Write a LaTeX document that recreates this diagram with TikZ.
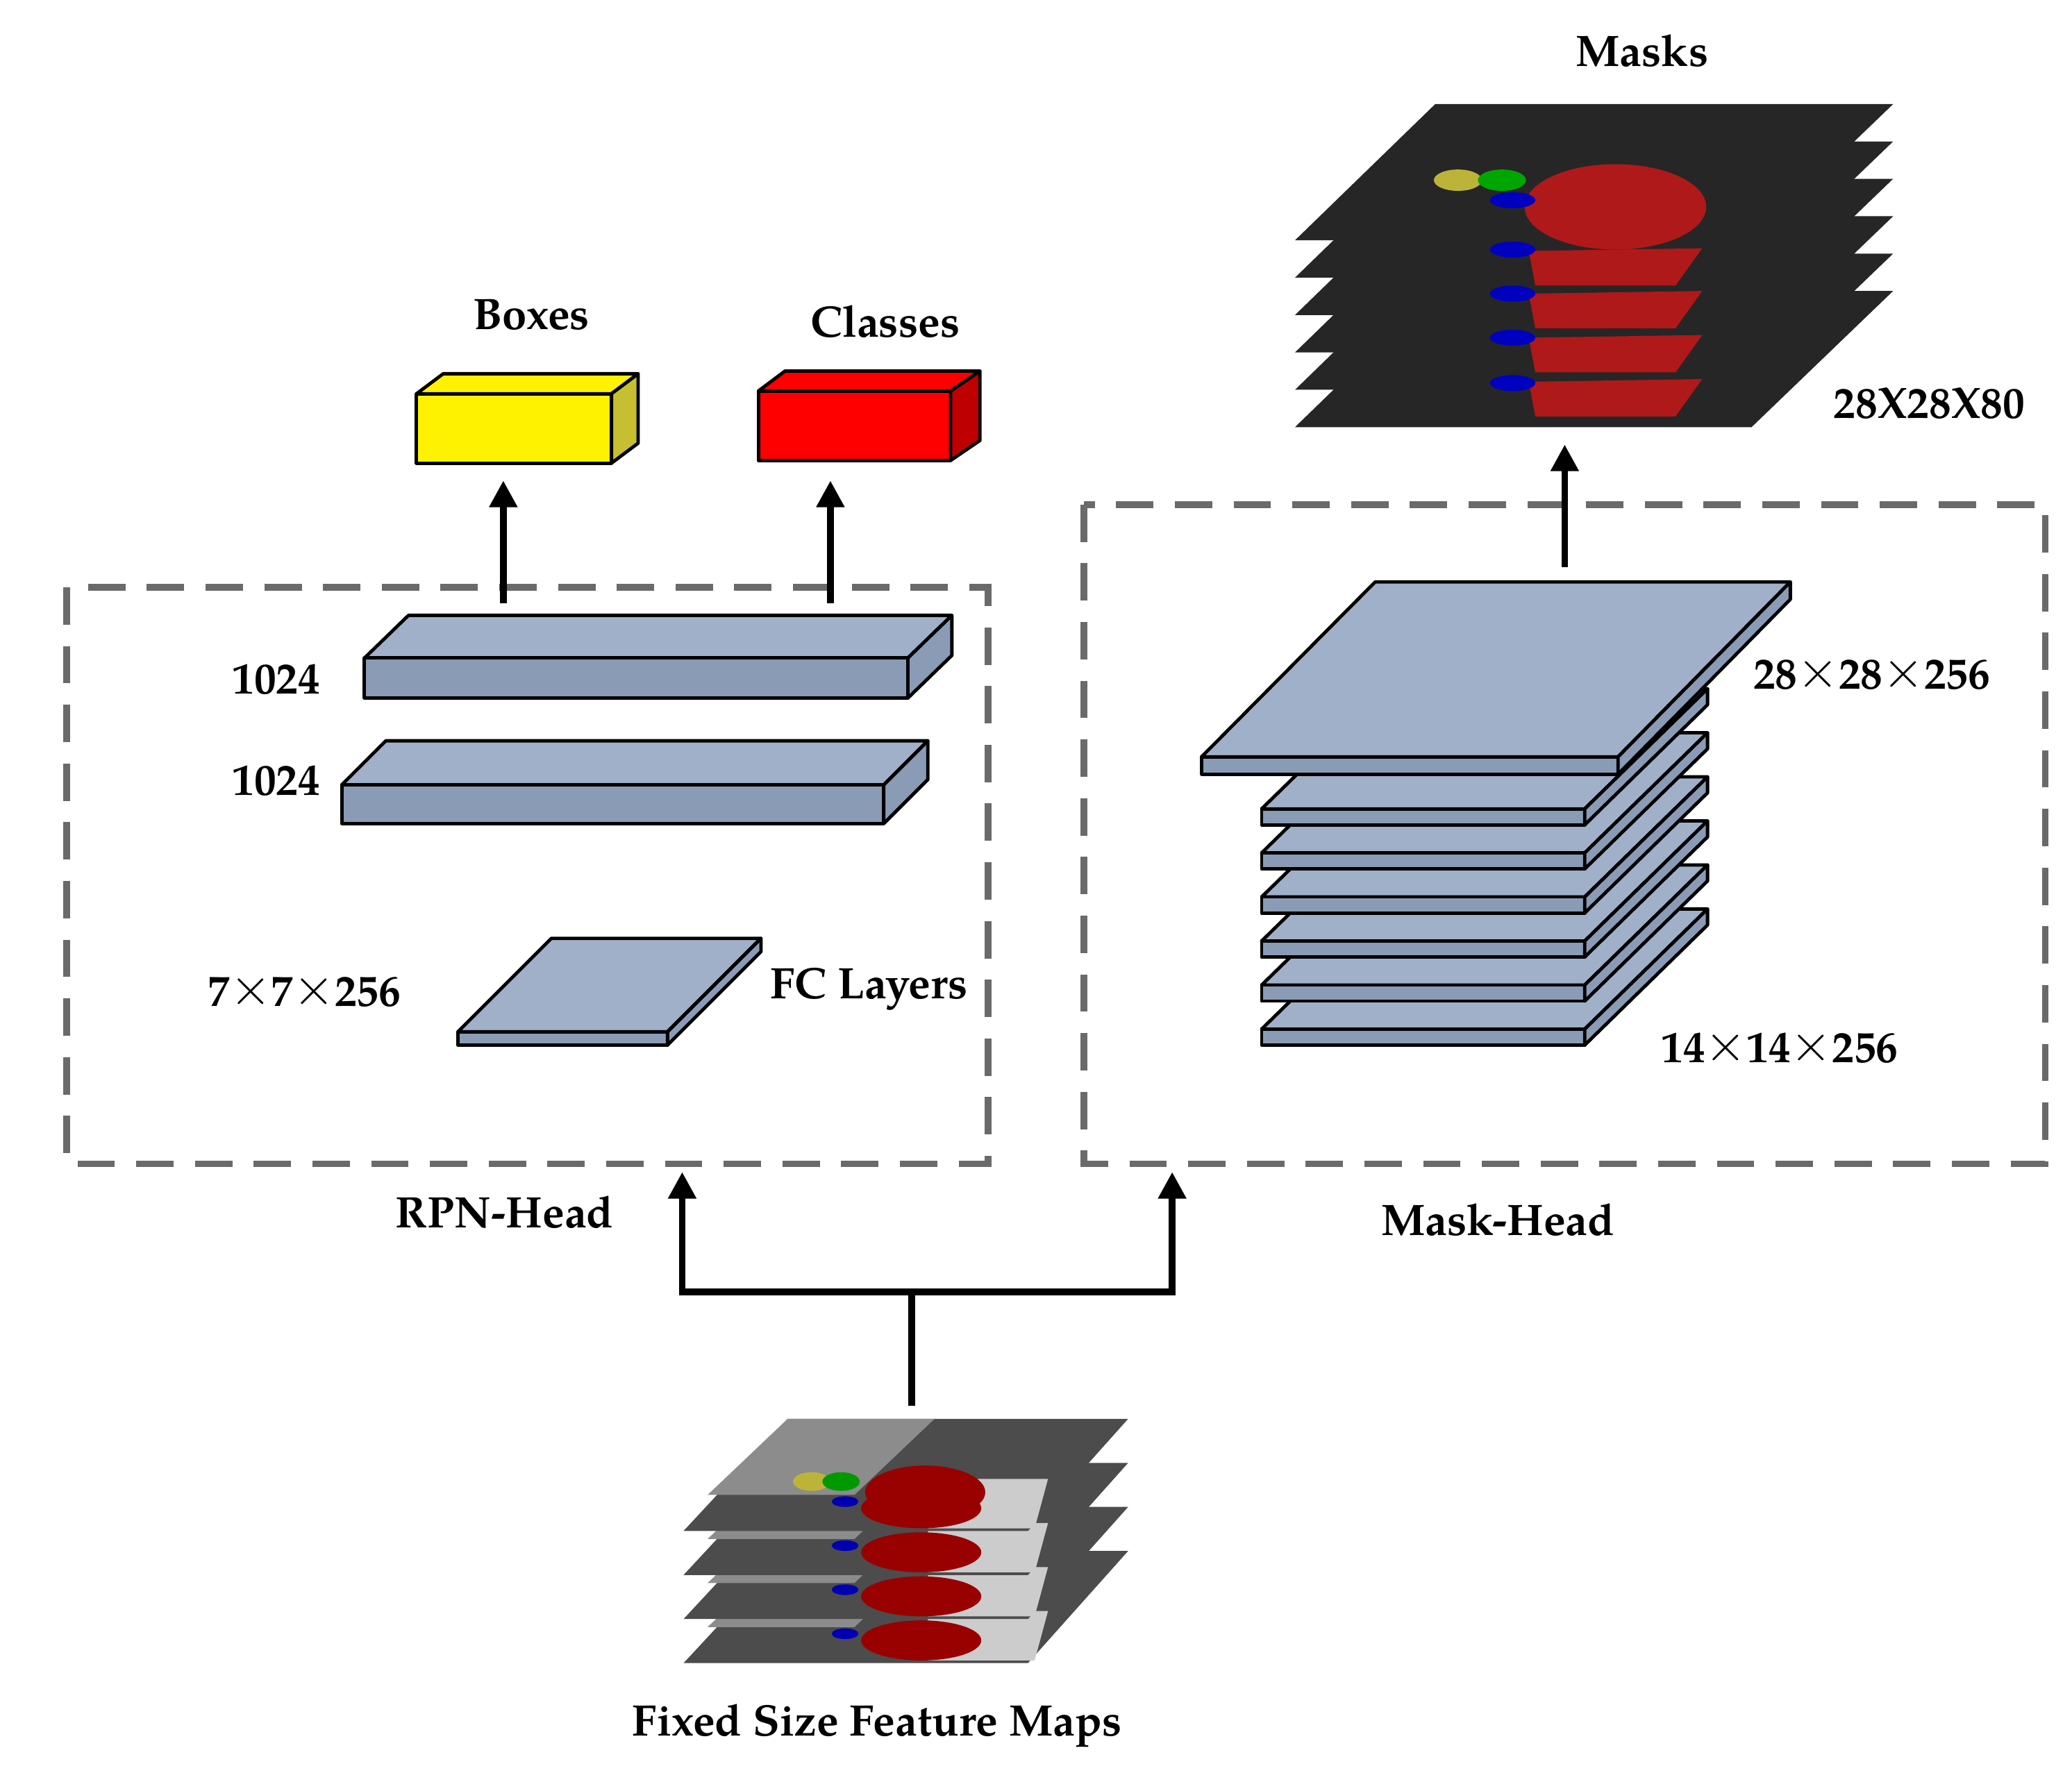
\documentclass[tikz,border=0pt]{standalone}
\usepackage{fontspec}
\setmainfont{TeX Gyre Pagella}
\usetikzlibrary{arrows.meta}
\newcommand{\tms}{\raisebox{1pt}{\scalebox{1.6}{$\times$}}}
\begin{document}
\begin{tikzpicture}[x=1pt,y=-1pt,
 lab/.style={font=\fontsize{33}{38}\selectfont\bfseries},
 dbox/.style={draw=gray!70!black!90,line width=5pt,dash pattern=on 28pt off 16pt},
 arr/.style={line width=5pt,-{Triangle[length=20pt,width=20pt]}},
 plate/.style={draw=black,line width=2.5pt,line join=round},
 pf/.style={plate,fill={rgb,255:red,138;green,155;blue,181}},
 pt/.style={plate,fill={rgb,255:red,160;green,176;blue,200}}]
\useasboundingbox (0,0) rectangle (1552,1328);
% masks
\foreach \i in {5,4,...,0}{
 \fill[black!85] (1075,{78+28*\i}) -- (1418,{78+28*\i}) -- (1312,{180+28*\i}) -- (970,{180+28*\i}) -- cycle;}
\fill[red!65!black!90] (1210,155) ellipse (68 and 32);
\foreach \y in {200,232,265,298}{\fill[red!65!black!90] (1145,\y-12) -- (1275,\y-14) -- (1255,\y+14) -- (1150,\y+14) -- cycle;}
\foreach \y in {150,187,220,253,287}{\fill[blue!75!black] (1133,\y) ellipse (17 and 6);}
\fill[yellow!70!black] (1092,135) ellipse (18 and 8);
\fill[green!65!black] (1125,135) ellipse (18 and 8);
\node[lab] (masks) at (1230,38) {Masks};
\node[lab] (m80) at (1445,302) {28X28X80};
% dashed boxes
\draw[dbox] (50,440) rectangle (740,872);
\draw[dbox] (812,378) rectangle (1532,872);
% output cuboids
\draw[plate,fill=yellow] (312,295) rectangle (458,347);
\draw[plate,fill=yellow] (312,295) -- (332,280) -- (478,280) -- (458,295) -- cycle;
\draw[plate,fill=yellow!75!black] (458,295) -- (478,280) -- (478,332) -- (458,347) -- cycle;
\draw[plate,fill=red] (568,293) rectangle (712,345);
\draw[plate,fill=red] (568,293) -- (588,278) -- (734,278) -- (712,293) -- cycle;
\draw[plate,fill=red!75!black] (712,293) -- (734,278) -- (734,330) -- (712,345) -- cycle;
\node[lab] (boxes) at (398,236) {Boxes};
\node[lab] (classes) at (663,241) {Classes};
\coordinate (b0) at (377,452); \coordinate (b1) at (377,360);
\coordinate (c0) at (622,452); \coordinate (c1) at (622,360);
\draw[arr] (b0) -- (b1); \draw[arr] (c0) -- (c1);
% FC bars
\draw[pt] (273,493) -- (306,461) -- (713,461) -- (680,493) -- cycle;
\draw[pf] (273,493) rectangle (680,523);
\draw[pf] (680,493) -- (713,461) -- (713,491) -- (680,523) -- cycle;
\draw[pt] (256,588) -- (289,555) -- (695,555) -- (662,588) -- cycle;
\draw[pf] (256,588) rectangle (662,617);
\draw[pf] (662,588) -- (695,555) -- (695,584) -- (662,617) -- cycle;
\node[lab] (n1) at (207,509) {1024};
\node[lab] (n2) at (207,585) {1024};
% small plate
\draw[pt] (343,773) -- (413,703) -- (570,703) -- (500,773) -- cycle;
\draw[pf] (343,773) rectangle (500,783);
\draw[pf] (500,773) -- (570,703) -- (570,713) -- (500,783) -- cycle;
\node[lab] (s7) at (228,743) {7\tms7\tms256};
\node[lab] (fcl) at (651,741) {FC Layers};
% mask head plates
\foreach \yf in {783,750,717,684,651,618}{
 \draw[pt] (945,\yf-12) -- (1037,\yf-102) -- (1279,\yf-102) -- (1187,\yf-12) -- cycle;
 \draw[pf] (945,\yf-12) rectangle (1187,\yf);
 \draw[pf] (1187,\yf-12) -- (1279,\yf-102) -- (1279,\yf-90) -- (1187,\yf) -- cycle;}
\draw[pt] (900,567) -- (1030,436) -- (1341,436) -- (1212,567) -- cycle;
\draw[pf] (900,567) rectangle (1212,580);
\draw[pf] (1212,567) -- (1341,436) -- (1341,449) -- (1212,580) -- cycle;
\node[lab] (t28) at (1402,505) {28\tms28\tms256};
\node[lab] (t14) at (1333,785) {14\tms14\tms256};
\coordinate (k0) at (1172,425); \coordinate (k1) at (1172,333);
\draw[arr] (k0) -- (k1);
\node[lab] (rpn) at (378,908) {RPN-Head};
\node[lab] (mh) at (1122,914) {Mask-Head};
% feature maps
\foreach \i in {3,2,1,0}{
 \fill[black!70] (590,{1063+33*\i}) -- (845,{1063+33*\i}) -- (770,{1147+33*\i}) -- (512,{1147+33*\i}) -- cycle;
 \fill[black!45] (590,{1063+33*\i}) -- (700,{1063+33*\i}) -- (640,{1120+33*\i}) -- (530,{1120+33*\i}) -- cycle;
 \fill[black!20] (695,{1108+33*\i}) -- (785,{1108+33*\i}) -- (775,{1145+33*\i}) -- (695,{1145+33*\i}) -- cycle;
 \fill[red!60!black] (690,{1130+33*\i}) ellipse (45 and 15);
 \fill[blue!70!black] (633,{1125+33*\i}) ellipse (10 and 4);}
\fill[red!60!black] (693,1118) ellipse (45 and 20);
\fill[yellow!70!black] (608,1110) ellipse (14 and 7);
\fill[green!60!black] (630,1110) ellipse (14 and 7);
\node[lab] (fm) at (657,1293) {Fixed Size Feature Maps};
% connector
\coordinate (f0) at (683,1053); \coordinate (j) at (683,968);
\coordinate (l) at (511,968); \coordinate (r) at (878,968);
\coordinate (l1) at (511,878); \coordinate (r1) at (878,878);
\draw[line width=5pt] (f0) -- (j);
\draw[arr] (j) -- (l) -- (l1);
\draw[arr] (j) -- (r) -- (r1);
\end{tikzpicture}
\end{document}
